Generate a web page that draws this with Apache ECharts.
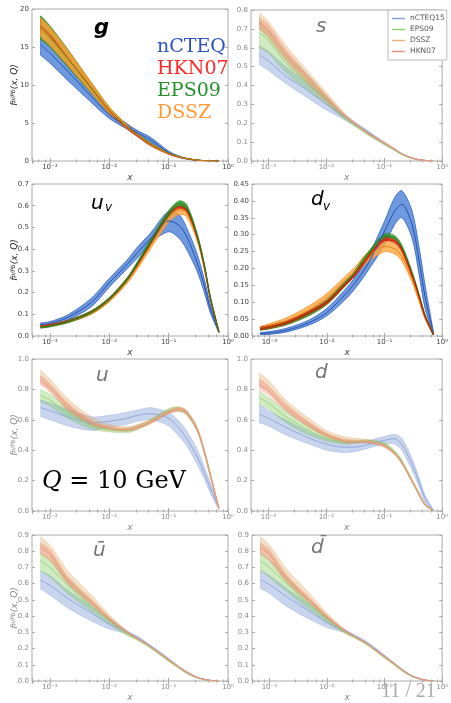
<!DOCTYPE html>
<html lang="en">
<head>
<meta charset="UTF-8">
<title>nPDF comparison, Q = 10 GeV</title>
<script src="https://cdn.jsdelivr.net/npm/echarts@6/dist/echarts.min.js"></script>
<style>
    html, body { margin: 0; padding: 0; background: #fff; }
    #main { width: 451px; height: 703px; }
</style>
</head>
<body>
<div id="main"></div>
<script type="text/javascript">
    // x grid shared by every curve
    var xs = [0.0007, 0.001, 0.002, 0.005, 0.01, 0.02, 0.03, 0.05, 0.1, 0.15, 0.2, 0.3, 0.4, 0.5, 0.7];

    // ---- g ----
    var gNcLo  = [13.9, 12.9, 10.6, 7.7, 5.6, 4.2, 3.4, 2.4, 0.9, 0.45, 0.25, 0.08, 0.03, 0.01, 0];
    var gNcMid = [15.3, 14.2, 11.8, 8.5, 6.1, 4.55, 3.7, 2.75, 1.1, 0.55, 0.3, 0.1, 0.04, 0.015, 0];
    var gNcHi  = [16.6, 15.5, 13.0, 9.4, 6.7, 4.9, 4.0, 3.1, 1.3, 0.65, 0.36, 0.12, 0.05, 0.02, 0];
    var gHkLo  = [17.0, 15.8, 12.9, 9.1, 6.3, 4.2, 3.2, 2.0, 0.9, 0.5, 0.3, 0.1, 0.04, 0.015, 0];
    var gHkMid = [17.8, 16.6, 13.6, 9.6, 6.6, 4.4, 3.3, 2.1, 0.95, 0.53, 0.32, 0.11, 0.045, 0.02, 0];
    var gHkHi  = [18.6, 17.4, 14.3, 10.1, 6.9, 4.6, 3.45, 2.2, 1.0, 0.56, 0.34, 0.12, 0.05, 0.025, 0];
    var gEpLo  = [16.0, 15.0, 12.4, 8.9, 6.3, 4.3, 3.3, 2.1, 0.95, 0.5, 0.3, 0.1, 0.04, 0.015, 0];
    var gEpMid = [17.5, 16.3, 13.5, 9.6, 6.7, 4.5, 3.45, 2.2, 1.0, 0.55, 0.33, 0.12, 0.05, 0.02, 0];
    var gEpHi  = [19.1, 17.8, 14.7, 10.3, 7.1, 4.75, 3.6, 2.35, 1.07, 0.6, 0.36, 0.13, 0.055, 0.025, 0];
    var gDsLo  = [16.3, 15.2, 12.6, 9.0, 6.3, 4.3, 3.3, 2.05, 0.9, 0.5, 0.3, 0.1, 0.04, 0.015, 0];
    var gDsMid = [17.5, 16.4, 13.6, 9.7, 6.7, 4.5, 3.4, 2.15, 0.97, 0.53, 0.32, 0.11, 0.045, 0.02, 0];
    var gDsHi  = [18.8, 17.6, 14.6, 10.3, 7.1, 4.7, 3.55, 2.3, 1.05, 0.58, 0.35, 0.12, 0.05, 0.025, 0];

    // ---- s ----
    var sNcLo  = [0.51, 0.48, 0.41, 0.33, 0.27, 0.22, 0.19, 0.15, 0.09, 0.058, 0.035, 0.014, 0.006, 0.003, 0];
    var sNcMid = [0.56, 0.53, 0.45, 0.37, 0.30, 0.235, 0.2, 0.157, 0.095, 0.062, 0.038, 0.016, 0.007, 0.003, 0];
    var sNcHi  = [0.61, 0.58, 0.50, 0.41, 0.33, 0.25, 0.21, 0.165, 0.10, 0.066, 0.041, 0.018, 0.008, 0.004, 0];
    var sEpLo  = [0.60, 0.57, 0.47, 0.37, 0.30, 0.225, 0.185, 0.14, 0.085, 0.055, 0.033, 0.013, 0.005, 0.002, 0];
    var sEpMid = [0.68, 0.64, 0.52, 0.41, 0.325, 0.235, 0.195, 0.145, 0.09, 0.058, 0.036, 0.015, 0.006, 0.003, 0];
    var sEpHi  = [0.74, 0.69, 0.57, 0.45, 0.345, 0.25, 0.2, 0.15, 0.095, 0.062, 0.039, 0.017, 0.007, 0.004, 0];
    var sDsLo  = [0.70, 0.65, 0.53, 0.40, 0.31, 0.23, 0.195, 0.145, 0.09, 0.06, 0.035, 0.013, 0.005, 0.002, 0];
    var sDsMid = [0.745, 0.70, 0.575, 0.44, 0.34, 0.245, 0.2, 0.15, 0.095, 0.063, 0.038, 0.015, 0.006, 0.003, 0];
    var sDsHi  = [0.785, 0.74, 0.615, 0.47, 0.365, 0.26, 0.21, 0.16, 0.10, 0.066, 0.04, 0.017, 0.007, 0.004, 0];
    var sHkLo  = [0.70, 0.66, 0.54, 0.41, 0.32, 0.235, 0.195, 0.145, 0.09, 0.06, 0.036, 0.014, 0.006, 0.002, 0];
    var sHkMid = [0.73, 0.69, 0.565, 0.43, 0.335, 0.243, 0.2, 0.15, 0.095, 0.063, 0.038, 0.016, 0.007, 0.003, 0];
    var sHkHi  = [0.76, 0.72, 0.59, 0.45, 0.35, 0.25, 0.205, 0.155, 0.1, 0.066, 0.04, 0.018, 0.008, 0.004, 0];

    // ---- u_v ----
    var uvNcLo  = [0.045, 0.051, 0.074, 0.135, 0.225, 0.31, 0.36, 0.43, 0.48, 0.45, 0.40, 0.30, 0.2, 0.11, 0.015];
    var uvNcMid = [0.052, 0.058, 0.085, 0.155, 0.245, 0.33, 0.385, 0.45, 0.53, 0.51, 0.46, 0.34, 0.23, 0.13, 0.02];
    var uvNcHi  = [0.06, 0.066, 0.097, 0.174, 0.265, 0.35, 0.41, 0.475, 0.575, 0.56, 0.50, 0.38, 0.26, 0.15, 0.025];
    var uvHkLo  = [0.042, 0.047, 0.064, 0.105, 0.164, 0.253, 0.323, 0.423, 0.553, 0.588, 0.573, 0.454, 0.315, 0.176, 0.018];
    var uvHkMid = [0.045, 0.05, 0.068, 0.11, 0.17, 0.26, 0.33, 0.43, 0.56, 0.595, 0.58, 0.46, 0.32, 0.18, 0.02];
    var uvHkHi  = [0.048, 0.053, 0.072, 0.115, 0.176, 0.267, 0.337, 0.437, 0.567, 0.602, 0.587, 0.466, 0.325, 0.184, 0.022];
    var uvEpLo  = [0.036, 0.042, 0.061, 0.104, 0.163, 0.252, 0.326, 0.425, 0.553, 0.598, 0.583, 0.455, 0.317, 0.175, 0.017];
    var uvEpMid = [0.04, 0.046, 0.066, 0.11, 0.17, 0.26, 0.335, 0.435, 0.565, 0.61, 0.595, 0.465, 0.325, 0.18, 0.02];
    var uvEpHi  = [0.044, 0.05, 0.071, 0.116, 0.177, 0.268, 0.344, 0.445, 0.577, 0.622, 0.607, 0.475, 0.333, 0.185, 0.023];
    var uvDsLo  = [0.04, 0.045, 0.061, 0.1, 0.157, 0.243, 0.31, 0.403, 0.525, 0.56, 0.55, 0.44, 0.305, 0.17, 0.017];
    var uvDsMid = [0.044, 0.049, 0.066, 0.107, 0.165, 0.253, 0.322, 0.418, 0.545, 0.58, 0.57, 0.455, 0.315, 0.177, 0.02];
    var uvDsHi  = [0.048, 0.053, 0.071, 0.114, 0.173, 0.263, 0.334, 0.433, 0.565, 0.6, 0.59, 0.47, 0.325, 0.184, 0.023];

    // ---- d_v ----
    var dvNcLo  = [0.004, 0.005, 0.012, 0.033, 0.06, 0.105, 0.138, 0.19, 0.27, 0.33, 0.35, 0.29, 0.18, 0.085, 0.005];
    var dvNcMid = [0.007, 0.009, 0.017, 0.04, 0.07, 0.12, 0.155, 0.21, 0.31, 0.37, 0.39, 0.33, 0.22, 0.12, 0.01];
    var dvNcHi  = [0.01, 0.013, 0.023, 0.048, 0.082, 0.135, 0.172, 0.23, 0.34, 0.41, 0.43, 0.37, 0.26, 0.155, 0.015];
    var dvHkLo  = [0.018, 0.023, 0.036, 0.066, 0.096, 0.146, 0.176, 0.226, 0.281, 0.276, 0.251, 0.176, 0.111, 0.056, 0.003];
    var dvHkMid = [0.022, 0.027, 0.04, 0.07, 0.1, 0.15, 0.18, 0.23, 0.285, 0.28, 0.255, 0.18, 0.115, 0.06, 0.005];
    var dvHkHi  = [0.026, 0.031, 0.044, 0.074, 0.104, 0.154, 0.184, 0.234, 0.289, 0.284, 0.259, 0.184, 0.119, 0.064, 0.007];
    var dvEpLo  = [0.017, 0.021, 0.033, 0.061, 0.093, 0.145, 0.178, 0.231, 0.288, 0.283, 0.255, 0.179, 0.113, 0.058, 0.003];
    var dvEpMid = [0.021, 0.026, 0.039, 0.068, 0.1, 0.152, 0.185, 0.238, 0.295, 0.29, 0.262, 0.185, 0.118, 0.062, 0.005];
    var dvEpHi  = [0.025, 0.031, 0.045, 0.075, 0.107, 0.159, 0.192, 0.245, 0.302, 0.297, 0.269, 0.191, 0.123, 0.066, 0.007];
    var dvDsLo  = [0.02, 0.024, 0.036, 0.066, 0.1, 0.15, 0.178, 0.218, 0.25, 0.243, 0.222, 0.16, 0.1, 0.052, 0.003];
    var dvDsMid = [0.024, 0.03, 0.045, 0.078, 0.113, 0.162, 0.19, 0.232, 0.265, 0.258, 0.235, 0.17, 0.108, 0.057, 0.005];
    var dvDsHi  = [0.028, 0.036, 0.054, 0.09, 0.126, 0.174, 0.202, 0.246, 0.28, 0.273, 0.248, 0.18, 0.116, 0.062, 0.007];

    // ---- u ----
    var uNcLo  = [0.62, 0.60, 0.56, 0.53, 0.55, 0.57, 0.59, 0.60, 0.56, 0.49, 0.43, 0.31, 0.21, 0.12, 0.01];
    var uNcMid = [0.68, 0.66, 0.62, 0.58, 0.59, 0.61, 0.63, 0.64, 0.61, 0.545, 0.48, 0.36, 0.25, 0.155, 0.02];
    var uNcHi  = [0.73, 0.71, 0.67, 0.62, 0.63, 0.65, 0.665, 0.68, 0.65, 0.59, 0.53, 0.41, 0.29, 0.19, 0.03];
    var uEpLo  = [0.72, 0.69, 0.61, 0.54, 0.52, 0.515, 0.535, 0.578, 0.645, 0.655, 0.63, 0.525, 0.375, 0.225, 0.015];
    var uEpMid = [0.76, 0.73, 0.645, 0.565, 0.535, 0.53, 0.55, 0.59, 0.66, 0.67, 0.645, 0.54, 0.39, 0.24, 0.02];
    var uEpHi  = [0.80, 0.77, 0.68, 0.59, 0.55, 0.545, 0.565, 0.602, 0.675, 0.685, 0.66, 0.555, 0.405, 0.255, 0.025];
    var uDsLo  = [0.84, 0.79, 0.66, 0.56, 0.53, 0.525, 0.54, 0.575, 0.64, 0.655, 0.635, 0.525, 0.375, 0.225, 0.015];
    var uDsMid = [0.885, 0.83, 0.70, 0.59, 0.55, 0.54, 0.555, 0.59, 0.655, 0.67, 0.65, 0.54, 0.39, 0.24, 0.02];
    var uDsHi  = [0.93, 0.87, 0.74, 0.62, 0.57, 0.555, 0.57, 0.605, 0.67, 0.685, 0.665, 0.555, 0.405, 0.255, 0.025];
    var uHkLo  = [0.83, 0.785, 0.67, 0.565, 0.535, 0.525, 0.54, 0.575, 0.64, 0.66, 0.64, 0.53, 0.38, 0.23, 0.015];
    var uHkMid = [0.86, 0.81, 0.69, 0.58, 0.545, 0.535, 0.55, 0.585, 0.65, 0.67, 0.65, 0.54, 0.39, 0.24, 0.02];
    var uHkHi  = [0.89, 0.835, 0.71, 0.595, 0.555, 0.545, 0.56, 0.595, 0.66, 0.68, 0.66, 0.55, 0.40, 0.25, 0.025];

    // ---- d ----
    var dNcLo  = [0.58, 0.56, 0.50, 0.44, 0.40, 0.385, 0.39, 0.41, 0.44, 0.44, 0.40, 0.27, 0.16, 0.06, 0.0];
    var dNcMid = [0.635, 0.61, 0.55, 0.48, 0.44, 0.42, 0.42, 0.435, 0.465, 0.475, 0.44, 0.31, 0.19, 0.09, 0.005];
    var dNcHi  = [0.70, 0.66, 0.60, 0.52, 0.475, 0.45, 0.45, 0.46, 0.49, 0.505, 0.48, 0.35, 0.22, 0.11, 0.01];
    var dEpLo  = [0.70, 0.67, 0.58, 0.50, 0.46, 0.44, 0.445, 0.45, 0.43, 0.38, 0.32, 0.19, 0.1, 0.04, 0.0];
    var dEpMid = [0.745, 0.71, 0.62, 0.53, 0.48, 0.455, 0.455, 0.46, 0.44, 0.39, 0.33, 0.2, 0.11, 0.045, 0.0];
    var dEpHi  = [0.79, 0.75, 0.66, 0.56, 0.50, 0.47, 0.465, 0.47, 0.45, 0.40, 0.34, 0.21, 0.12, 0.05, 0.005];
    var dDsLo  = [0.82, 0.78, 0.66, 0.55, 0.49, 0.45, 0.45, 0.45, 0.42, 0.37, 0.31, 0.19, 0.1, 0.04, 0.0];
    var dDsMid = [0.865, 0.82, 0.70, 0.58, 0.51, 0.47, 0.465, 0.46, 0.43, 0.38, 0.32, 0.2, 0.11, 0.045, 0.0];
    var dDsHi  = [0.91, 0.86, 0.73, 0.61, 0.53, 0.49, 0.48, 0.47, 0.44, 0.39, 0.33, 0.21, 0.12, 0.05, 0.005];
    var dHkLo  = [0.80, 0.765, 0.66, 0.555, 0.49, 0.45, 0.447, 0.447, 0.42, 0.372, 0.312, 0.193, 0.104, 0.041, 0.0];
    var dHkMid = [0.83, 0.79, 0.68, 0.57, 0.50, 0.46, 0.455, 0.455, 0.43, 0.38, 0.32, 0.2, 0.11, 0.045, 0.0];
    var dHkHi  = [0.86, 0.815, 0.70, 0.585, 0.51, 0.47, 0.463, 0.463, 0.44, 0.388, 0.328, 0.207, 0.116, 0.049, 0.004];

    // ---- ubar ----
    var ubNcLo  = [0.565, 0.53, 0.45, 0.37, 0.32, 0.29, 0.265, 0.21, 0.13, 0.08, 0.05, 0.02, 0.009, 0.003, 0];
    var ubNcMid = [0.62, 0.59, 0.51, 0.42, 0.35, 0.30, 0.27, 0.215, 0.135, 0.085, 0.055, 0.022, 0.01, 0.004, 0];
    var ubNcHi  = [0.68, 0.65, 0.56, 0.46, 0.38, 0.31, 0.275, 0.22, 0.14, 0.09, 0.06, 0.025, 0.012, 0.005, 0];
    var ubEpLo  = [0.68, 0.64, 0.54, 0.43, 0.35, 0.28, 0.25, 0.2, 0.12, 0.075, 0.045, 0.018, 0.008, 0.003, 0];
    var ubEpMid = [0.74, 0.70, 0.59, 0.46, 0.37, 0.29, 0.255, 0.205, 0.125, 0.08, 0.05, 0.02, 0.009, 0.003, 0];
    var ubEpHi  = [0.79, 0.75, 0.63, 0.49, 0.39, 0.30, 0.26, 0.21, 0.13, 0.085, 0.055, 0.022, 0.01, 0.004, 0];
    var ubDsLo  = [0.78, 0.74, 0.60, 0.47, 0.37, 0.29, 0.255, 0.205, 0.125, 0.08, 0.05, 0.02, 0.009, 0.003, 0];
    var ubDsMid = [0.835, 0.79, 0.64, 0.50, 0.39, 0.30, 0.26, 0.21, 0.13, 0.085, 0.055, 0.022, 0.01, 0.004, 0];
    var ubDsHi  = [0.89, 0.84, 0.68, 0.53, 0.41, 0.31, 0.265, 0.215, 0.135, 0.09, 0.06, 0.025, 0.012, 0.005, 0];
    var ubHkLo  = [0.79, 0.75, 0.60, 0.47, 0.375, 0.293, 0.255, 0.205, 0.125, 0.082, 0.052, 0.02, 0.009, 0.003, 0];
    var ubHkMid = [0.82, 0.78, 0.62, 0.485, 0.385, 0.30, 0.26, 0.21, 0.13, 0.085, 0.055, 0.022, 0.01, 0.004, 0];
    var ubHkHi  = [0.85, 0.81, 0.64, 0.50, 0.395, 0.307, 0.265, 0.215, 0.135, 0.088, 0.058, 0.024, 0.011, 0.005, 0];

    // ---- dbar ----
    var dbNcLo  = [0.57, 0.54, 0.46, 0.38, 0.33, 0.30, 0.275, 0.23, 0.15, 0.1, 0.065, 0.028, 0.013, 0.005, 0];
    var dbNcMid = [0.625, 0.595, 0.52, 0.43, 0.36, 0.31, 0.28, 0.235, 0.155, 0.105, 0.07, 0.03, 0.015, 0.006, 0];
    var dbNcHi  = [0.68, 0.65, 0.57, 0.47, 0.39, 0.32, 0.285, 0.24, 0.16, 0.11, 0.075, 0.033, 0.017, 0.007, 0];
    var dbEpLo  = [0.68, 0.64, 0.55, 0.44, 0.36, 0.295, 0.265, 0.22, 0.14, 0.095, 0.06, 0.026, 0.012, 0.004, 0];
    var dbEpMid = [0.74, 0.70, 0.60, 0.47, 0.38, 0.305, 0.27, 0.225, 0.145, 0.1, 0.065, 0.028, 0.013, 0.005, 0];
    var dbEpHi  = [0.79, 0.75, 0.64, 0.50, 0.40, 0.315, 0.275, 0.23, 0.15, 0.105, 0.07, 0.03, 0.014, 0.006, 0];
    var dbDsLo  = [0.78, 0.74, 0.61, 0.48, 0.38, 0.30, 0.27, 0.225, 0.145, 0.1, 0.065, 0.028, 0.013, 0.005, 0];
    var dbDsMid = [0.835, 0.79, 0.65, 0.51, 0.40, 0.31, 0.275, 0.23, 0.15, 0.105, 0.07, 0.03, 0.015, 0.006, 0];
    var dbDsHi  = [0.89, 0.84, 0.69, 0.54, 0.42, 0.32, 0.28, 0.235, 0.155, 0.11, 0.075, 0.033, 0.017, 0.007, 0];
    var dbHkLo  = [0.79, 0.75, 0.61, 0.48, 0.385, 0.303, 0.268, 0.223, 0.143, 0.1, 0.065, 0.028, 0.013, 0.005, 0];
    var dbHkMid = [0.82, 0.78, 0.63, 0.495, 0.395, 0.31, 0.273, 0.228, 0.148, 0.104, 0.069, 0.03, 0.015, 0.006, 0];
    var dbHkHi  = [0.85, 0.81, 0.65, 0.51, 0.405, 0.317, 0.278, 0.233, 0.153, 0.108, 0.073, 0.032, 0.017, 0.007, 0];

    // colours: saturated for the top two rows, washed out for the rest
    var strong = {
        nCTEQ: { fill: 'rgba(75,128,214,0.8)', edge: '#2e60c0', line: '#2452b2' },
        HKN07: { fill: 'rgba(236,48,26,0.8)', edge: '#d8280f', line: '#c81e08' },
        EPS09: { fill: 'rgba(52,150,40,0.8)', edge: '#2f8a22', line: '#237a18' },
        DSSZ:  { fill: 'rgba(255,168,64,0.8)', edge: '#ff8e1c', line: '#f07d10' }
    };
    var pale = {
        nCTEQ: { fill: 'rgba(76,114,196,0.3)', edge: 'rgba(76,114,196,0.35)', line: '#8aa4d8' },
        EPS09: { fill: 'rgba(110,192,70,0.32)', edge: 'rgba(110,192,70,0.4)', line: '#8fd06e' },
        DSSZ:  { fill: 'rgba(222,160,96,0.35)', edge: 'rgba(222,160,96,0.4)', line: '#eab07c' },
        HKN07: { fill: 'rgba(236,120,96,0.28)', edge: 'rgba(236,120,96,0.4)', line: '#ec9282' }
    };
    var legendNames = { nCTEQ: 'nCTEQ15', EPS09: 'EPS09', DSSZ: 'DSSZ', HKN07: 'HKN07' };

    var panels = [
        { grid: { left: 32, top: 9, width: 196, height: 152 }, ymax: 20, step: 5, digits: 0, pale: false, yname: true,
          bands: [['nCTEQ', gNcLo, gNcMid, gNcHi], ['HKN07', gHkLo, gHkMid, gHkHi], ['EPS09', gEpLo, gEpMid, gEpHi], ['DSSZ', gDsLo, gDsMid, gDsHi]] },
        { grid: { left: 251, top: 10, width: 196, height: 151 }, ymax: 0.8, step: 0.1, digits: 1, pale: true, yname: false, legend: true,
          bands: [['nCTEQ', sNcLo, sNcMid, sNcHi], ['EPS09', sEpLo, sEpMid, sEpHi], ['DSSZ', sDsLo, sDsMid, sDsHi], ['HKN07', sHkLo, sHkMid, sHkHi]] },
        { grid: { left: 32, top: 184, width: 196, height: 152 }, ymax: 0.7, step: 0.1, digits: 1, pale: false, yname: true,
          bands: [['nCTEQ', uvNcLo, uvNcMid, uvNcHi], ['DSSZ', uvDsLo, uvDsMid, uvDsHi], ['HKN07', uvHkLo, uvHkMid, uvHkHi], ['EPS09', uvEpLo, uvEpMid, uvEpHi]] },
        { grid: { left: 252, top: 184, width: 195, height: 152 }, ymax: 0.45, step: 0.05, digits: 2, pale: false, yname: false,
          bands: [['nCTEQ', dvNcLo, dvNcMid, dvNcHi], ['DSSZ', dvDsLo, dvDsMid, dvDsHi], ['EPS09', dvEpLo, dvEpMid, dvEpHi], ['HKN07', dvHkLo, dvHkMid, dvHkHi]] },
        { grid: { left: 32, top: 359, width: 196, height: 152 }, ymax: 1.0, step: 0.2, digits: 1, pale: true, yname: true,
          bands: [['nCTEQ', uNcLo, uNcMid, uNcHi], ['EPS09', uEpLo, uEpMid, uEpHi], ['DSSZ', uDsLo, uDsMid, uDsHi], ['HKN07', uHkLo, uHkMid, uHkHi]] },
        { grid: { left: 251, top: 359, width: 196, height: 152 }, ymax: 1.0, step: 0.2, digits: 1, pale: true, yname: false,
          bands: [['nCTEQ', dNcLo, dNcMid, dNcHi], ['EPS09', dEpLo, dEpMid, dEpHi], ['DSSZ', dDsLo, dDsMid, dDsHi], ['HKN07', dHkLo, dHkMid, dHkHi]] },
        { grid: { left: 32, top: 535, width: 196, height: 151 }, ymax: 0.9, step: 0.1, digits: 1, pale: true, yname: true,
          bands: [['nCTEQ', ubNcLo, ubNcMid, ubNcHi], ['EPS09', ubEpLo, ubEpMid, ubEpHi], ['DSSZ', ubDsLo, ubDsMid, ubDsHi], ['HKN07', ubHkLo, ubHkMid, ubHkHi]] },
        { grid: { left: 252, top: 535, width: 195, height: 151 }, ymax: 0.9, step: 0.1, digits: 1, pale: true, yname: false,
          bands: [['nCTEQ', dbNcLo, dbNcMid, dbNcHi], ['EPS09', dbEpLo, dbEpMid, dbEpHi], ['DSSZ', dbDsLo, dbDsMid, dbDsHi], ['HKN07', dbHkLo, dbHkMid, dbHkHi]] }
    ];

    var sup = { '-3': '\u207B\u00B3', '-2': '\u207B\u00B2', '-1': '\u207B\u00B9', '0': '\u2070' };

    // one closed polygon per error band, placed with the grid's own axes;
    // the end points are doubled so the smoothing keeps the band ends square
    function bandItem(lo, hi, st, lw) {
        return function (params, api) {
            var n = xs.length, pts = [];
            pts.push(api.coord([xs[0], hi[0]]));
            for (var i = 0; i < n; i++) pts.push(api.coord([xs[i], hi[i]]));
            pts.push(api.coord([xs[n - 1], hi[n - 1]]));
            pts.push(api.coord([xs[n - 1], lo[n - 1]]));
            for (var j = n - 1; j >= 0; j--) pts.push(api.coord([xs[j], lo[j]]));
            pts.push(api.coord([xs[0], lo[0]]));
            var cs = params.coordSys;
            return {
                type: 'polygon',
                shape: { points: pts, smooth: 0.3 },
                style: { fill: st.fill, stroke: st.edge, lineWidth: lw },
                clipPath: { type: 'rect', shape: { x: cs.x, y: cs.y, width: cs.width, height: cs.height } }
            };
        };
    }

    var grids = [], xAxes = [], yAxes = [], series = [];

    panels.forEach(function (p, gi) {
        var labelColor = p.pale ? '#888' : '#444';
        var frame = '#aaa';
        grids.push({ left: p.grid.left, top: p.grid.top, width: p.grid.width, height: p.grid.height,
            show: true, borderColor: frame, borderWidth: 1, backgroundColor: 'transparent' });

        // bottom (with labels) and top (ticks only) x axes
        xAxes.push({
            type: 'log', logBase: 10, min: 0.0005, max: 1, gridIndex: gi,
            name: 'x', nameLocation: 'middle', nameGap: 12,
            nameTextStyle: { fontStyle: 'italic', fontSize: 9, color: labelColor, fontFamily: 'DejaVu Sans' },
            axisLine: { show: false },
            axisTick: { inside: true, length: 3, lineStyle: { color: frame } },
            minorTick: { show: true, length: 1.5, lineStyle: { color: frame } },
            splitLine: { show: false },
            axisLabel: { margin: 3, fontSize: 7, color: labelColor, fontFamily: 'DejaVu Sans', showMinLabel: false,
                formatter: function (v) { return '10' + sup[String(Math.round(Math.log10(v)))]; } }
        });
        xAxes.push({
            type: 'log', logBase: 10, min: 0.0005, max: 1, gridIndex: gi, position: 'top',
            axisLine: { show: false }, axisLabel: { show: false }, splitLine: { show: false },
            axisTick: { inside: true, length: 3, lineStyle: { color: frame } },
            minorTick: { show: true, length: 1.5, lineStyle: { color: frame } }
        });

        var yAxis = {
            type: 'value', min: 0, max: p.ymax, interval: p.step, gridIndex: gi,
            axisLine: { show: false },
            axisTick: { inside: true, length: 3, lineStyle: { color: frame } },
            splitLine: { show: false },
            axisLabel: { margin: 3, fontSize: 7, color: labelColor, fontFamily: 'DejaVu Sans',
                formatter: function (v) { return v.toFixed(p.digits); } }
        };
        if (p.yname) {
            yAxis.name = '{f|f}{s|p/Pb}{f|(x, Q)}';
            yAxis.nameLocation = 'middle';
            yAxis.nameGap = 13;
            yAxis.nameMoveOverlap = false;
            yAxis.nameTextStyle = {
                rich: {
                    f: { fontStyle: 'italic', fontSize: 9, color: p.pale ? '#888' : '#222', fontFamily: 'DejaVu Sans' },
                    s: { fontStyle: 'italic', fontSize: 6, color: p.pale ? '#888' : '#222', fontFamily: 'DejaVu Sans', verticalAlign: 'top' }
                }
            };
        }
        yAxes.push(yAxis);
        yAxes.push({
            type: 'value', min: 0, max: p.ymax, interval: p.step, gridIndex: gi, position: 'right',
            axisLine: { show: false }, axisLabel: { show: false }, splitLine: { show: false },
            axisTick: { inside: true, length: 3, lineStyle: { color: frame } }
        });

        p.bands.forEach(function (b) {
            var set = b[0], lo = b[1], mid = b[2], hi = b[3];
            var st = p.pale ? pale[set] : strong[set];
            series.push({
                type: 'custom', xAxisIndex: 2 * gi, yAxisIndex: 2 * gi, silent: true, animation: false,
                data: [[xs[0], lo[0]]],
                renderItem: bandItem(lo, hi, st, p.pale ? 0.6 : 0.8)
            });
            var centre = {
                type: 'line', xAxisIndex: 2 * gi, yAxisIndex: 2 * gi, smooth: 0.3,
                symbol: 'none', silent: true, animation: false,
                data: xs.map(function (x, i) { return [x, mid[i]]; }),
                lineStyle: { color: st.line, width: p.pale ? 0.9 : 1 },
                itemStyle: { color: st.line }
            };
            if (p.legend) centre.name = legendNames[set];
            series.push(centre);
        });
    });

    var sansIt = 'italic 20px "DejaVu Sans"';
    var graphics = [
        { type: 'text', left: 94, top: 18, style: { text: 'g', font: 'italic bold 21px "DejaVu Sans"', fill: '#000' } },
        { type: 'text', left: 157, top: 38, style: { text: 'nCTEQ', font: '19px "DejaVu Serif"', fill: '#2a52c8' } },
        { type: 'text', left: 157, top: 60, style: { text: 'HKN07', font: '19px "DejaVu Serif"', fill: '#ff2626' } },
        { type: 'text', left: 157, top: 82, style: { text: 'EPS09', font: '19px "DejaVu Serif"', fill: '#24902a' } },
        { type: 'text', left: 157, top: 104, style: { text: 'DSSZ', font: '19px "DejaVu Serif"', fill: '#ff9a35' } },
        { type: 'text', left: 316, top: 17, style: { text: 's', font: sansIt, fill: '#777' } },
        { type: 'text', left: 91, top: 194, style: { text: 'u', font: sansIt, fill: '#000' } },
        { type: 'text', left: 105, top: 202, style: { text: 'v', font: 'italic 12px "DejaVu Sans"', fill: '#000' } },
        { type: 'text', left: 311, top: 190, style: { text: 'd', font: sansIt, fill: '#000' } },
        { type: 'text', left: 323, top: 201, style: { text: 'v', font: 'italic 12px "DejaVu Sans"', fill: '#000' } },
        { type: 'text', left: 96, top: 366, style: { text: 'u', font: sansIt, fill: '#777' } },
        { type: 'text', left: 315, top: 363, style: { text: 'd', font: sansIt, fill: '#777' } },
        { type: 'text', left: 93, top: 541, style: { text: 'u\u0304', font: sansIt, fill: '#777' } },
        { type: 'text', left: 311, top: 538, style: { text: 'd\u0304', font: sansIt, fill: '#777' } },
        { type: 'text', left: 42, top: 470, style: {
            text: '{q|Q} = 10 GeV', font: '24px "DejaVu Serif"', fill: '#000',
            rich: { q: { fontStyle: 'italic', fontSize: 24, fontFamily: 'DejaVu Serif', fill: '#000' } } } },
        { type: 'text', left: 381, top: 682, style: { text: '11 / 21', font: '20px "Liberation Serif"', fill: '#aaa' } }
    ];

    var myChart = echarts.init(document.getElementById('main'), null, { renderer: 'canvas' });
    var option = {
        backgroundColor: '#fff',
        animation: false,
        grid: grids,
        xAxis: xAxes,
        yAxis: yAxes,
        series: series,
        legend: {
            left: 388, top: 10, orient: 'vertical', selectedMode: false,
            data: ['nCTEQ15', 'EPS09', 'DSSZ', 'HKN07'],
            icon: 'rect', itemWidth: 13, itemHeight: 1.5, itemGap: 2, padding: [4, 2, 4, 4],
            backgroundColor: '#fff', borderColor: '#bbb', borderWidth: 1, borderRadius: 0,
            textStyle: { fontSize: 7.5, color: '#555', fontFamily: 'DejaVu Sans', lineHeight: 9 }
        },
        graphic: graphics
    };
    myChart.setOption(option);
</script>
</body>
</html>
